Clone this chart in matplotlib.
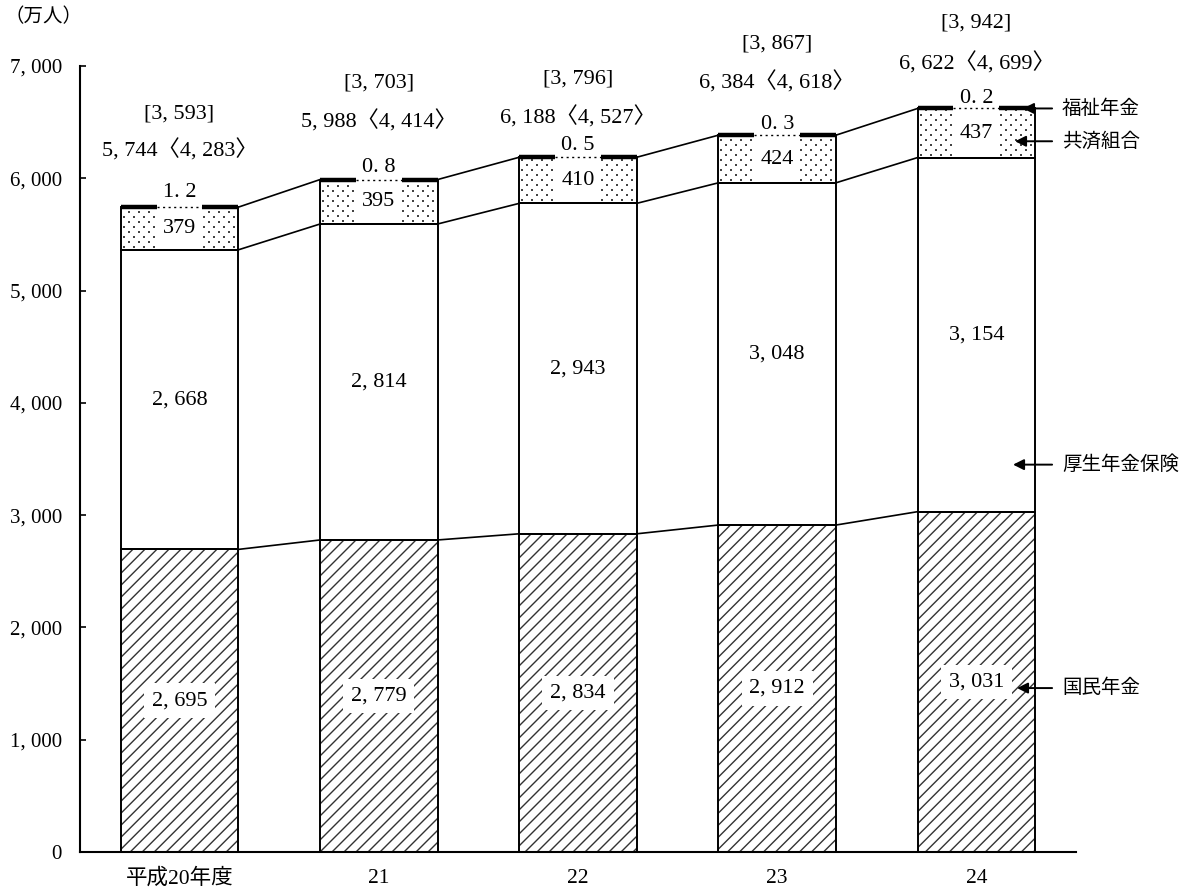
import numpy as np
import matplotlib.pyplot as plt
from matplotlib.patches import Rectangle
from matplotlib.collections import LineCollection

plt.rcParams['font.family'] = ['Liberation Serif', 'Noto Sans CJK JP']

# 公的年金加入者数（万人）
years = ['平成20年度', '21', '22', '23', '24']
kokumin = [2695, 2779, 2834, 2912, 3031]      # 国民年金
kosei = [2668, 2814, 2943, 3048, 3154]        # 厚生年金保険
kyosai = [379, 395, 410, 424, 437]            # 共済組合
fukushi = [1.2, 0.8, 0.5, 0.3, 0.2]           # 福祉年金
totals = [5744, 5988, 6188, 6384, 6622]
totals_angle = [4283, 4414, 4527, 4618, 4699]
totals_square = [3593, 3703, 3796, 3867, 3942]
yticks = [0, 1000, 2000, 3000, 4000, 5000, 6000, 7000]

# how far (px) the three labels sit above each bar
lifts = [(15, 57, 93), (12, 58, 97), (12, 40, 78), (11, 53, 91), (10, 45, 85)]


def fmt(v):
    return f'{v:,}'.replace(',', ', ')


fig = plt.figure(figsize=(11.81, 8.9), dpi=100)
ax = fig.add_axes([0.0677, 0.0427, 0.8434, 0.8831])
ax.set_xlim(-0.5, 4.5)
ax.set_ylim(0, 7000)


def diag_lines(xc, bottom, height, width, step=12):
    # 45-degree hatch drawn in pixel space, clipped to the bar
    (x0, y0), (x1, y1) = ax.transData.transform(
        [(xc - width / 2, bottom), (xc + width / 2, bottom + height)])
    h = y1 - y0
    inv = ax.transData.inverted()
    segs = []
    c = x0 - h
    while c < x1:
        segs.append(inv.transform([(c, y0), (c + h, y1)]))
        c += step
    lc = LineCollection(segs, colors='#333333', linewidths=1.0, zorder=1)
    ax.add_collection(lc)
    lc.set_clip_path(Rectangle((xc - width / 2, bottom), width, height,
                               transform=ax.transData))


def dots(xc, bottom, height, width, dx=10, dy=5):
    (x0, y0), (x1, y1) = ax.transData.transform(
        [(xc - width / 2, bottom), (xc + width / 2, bottom + height)])
    pts = []
    row = 0
    y = y0 + 3
    while y < y1 - 1:
        xx = x0 + 3 + (dx / 2 if row % 2 else 0)
        while xx < x1 - 1:
            pts.append((xx, y))
            xx += dx
        y += dy
        row += 1
    pts = ax.transData.inverted().transform(np.array(pts))
    ax.scatter(pts[:, 0], pts[:, 1], s=2.4, marker='s', color='#444444',
               linewidths=0, zorder=1)


x = list(range(len(years)))
w = 0.59
gw = 0.23   # white gap behind the small labels
FS = 16

base_kosei = kokumin
base_kyosai = [a + b for a, b in zip(kokumin, kosei)]
tops = [a + b + c for a, b, c in zip(base_kyosai, kyosai, fukushi)]

# textures
for i in x:
    diag_lines(i, 0, kokumin[i], w)
    dots(i, base_kyosai[i], kyosai[i], w)

# outlines
for vals, bot in [(kokumin, None), (kosei, base_kosei), (kyosai, base_kyosai)]:
    ax.bar(x, vals, w, bottom=bot, fill=False, edgecolor='black', lw=1.4, zorder=2)
ax.hlines(tops, [i - w / 2 for i in x], [i + w / 2 for i in x], color='black',
          lw=3.2, zorder=2)

# lines joining the bars
for series in [kokumin, base_kyosai, tops]:
    for i in range(len(x) - 1):
        ax.plot([x[i] + w / 2, x[i + 1] - w / 2], [series[i], series[i + 1]],
                color='black', lw=1.2, zorder=2)

for i in x:
    ax.add_patch(Rectangle((i - gw / 2, base_kyosai[i] + 18), gw,
                           kyosai[i] + fukushi[i] + 40, facecolor='white',
                           edgecolor='none', zorder=3))
    ax.plot([i - gw / 2, i + gw / 2], [base_kyosai[i] + kyosai[i]] * 2,
            color='black', lw=1.0, ls=(0, (1.5, 2.5)), zorder=4)

    ax.text(i, kokumin[i] / 2, fmt(kokumin[i]), ha='center', va='center',
            fontsize=FS, zorder=5,
            bbox=dict(boxstyle='square,pad=0.35', facecolor='white', edgecolor='none'))
    ax.text(i, kokumin[i] + kosei[i] / 2, fmt(kosei[i]), ha='center',
            va='center', fontsize=FS, zorder=5)
    ax.text(i, base_kyosai[i] + kyosai[i] / 2, fmt(kyosai[i]), ha='center',
            va='center', fontsize=FS, zorder=5)

    small, mid, high = lifts[i]
    ax.annotate(f'{fukushi[i]}'.replace('.', '. '), (i, tops[i]),
                xytext=(0, small), textcoords='offset pixels', ha='center',
                va='center', fontsize=FS, zorder=5, annotation_clip=False)
    ax.annotate(f'{fmt(totals[i])}〈{fmt(totals_angle[i])}〉', (i, tops[i]),
                xytext=(0, mid), textcoords='offset pixels', ha='center',
                va='center', fontsize=FS, annotation_clip=False)
    ax.annotate(f'[{fmt(totals_square[i])}]', (i, tops[i]),
                xytext=(0, high), textcoords='offset pixels', ha='center',
                va='center', fontsize=FS, annotation_clip=False)

# series names with arrows on the right
last = x[-1]
names = [
    ('福祉年金', tops[-1], 0.234),
    ('共済組合', 6330, 0.194),
    ('厚生年金保険', 3450, 0.184),
    ('国民年金', 1460, 0.204),
]
for name, yv, tip in names:
    ax.annotate('', xy=(last + tip, yv), xytext=(last + 0.38, yv),
                arrowprops=dict(arrowstyle='-|>', color='black', lw=1.4,
                                mutation_scale=16, shrinkA=0, shrinkB=0),
                zorder=6, annotation_clip=False)
    ax.text(last + 0.43, yv, name, ha='left', va='center', fontsize=14,
            clip_on=False)

ax.set_xticks(x)
ax.set_xticklabels(years, fontsize=15.5)
ax.set_yticks(yticks)
ax.set_yticklabels([fmt(v) for v in yticks], fontsize=15)
ax.tick_params(axis='x', length=0, pad=12)
ax.tick_params(axis='y', direction='in', length=4, width=1.2, pad=13)
for s in ['top', 'right']:
    ax.spines[s].set_visible(False)
ax.spines['left'].set_linewidth(1.5)
ax.spines['bottom'].set_linewidth(1.5)

fig.text(5 / 1181, 1 - 17 / 890, '（万人）', ha='left', va='center', fontsize=14)

fig.savefig('out.png', dpi=100)
